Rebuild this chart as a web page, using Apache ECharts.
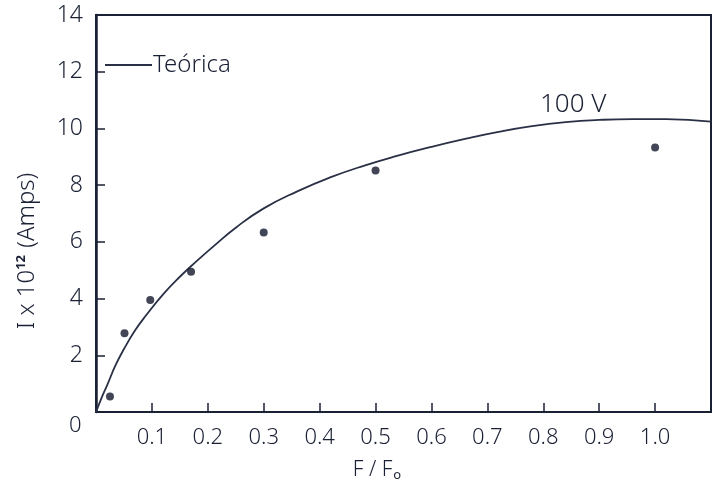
<!DOCTYPE html>
<html>
<head>
<meta charset="utf-8">
<title>I vs F/Fo</title>
<script src="https://cdn.jsdelivr.net/npm/echarts@6/dist/echarts.min.js"></script>
<style>
  html, body { margin: 0; padding: 0; background: #ffffff; }
  #chart { width: 714px; height: 480px; }
</style>
</head>
<body>
<div id="chart"></div>
<script>
// Theoretical curve (100 V), sampled along F/Fo
const curveX = [0, 0.01, 0.02, 0.035, 0.05, 0.07, 0.09, 0.12, 0.15, 0.18, 0.21, 0.25, 0.3,
                0.36, 0.42, 0.48, 0.54, 0.6, 0.66, 0.72, 0.78, 0.84, 0.9, 0.96, 1.02, 1.1];
const curveY = [0, 0.5, 0.95, 1.65, 2.22, 2.88, 3.42, 4.15, 4.77, 5.32, 5.84, 6.5, 7.18,
                7.78, 8.28, 8.69, 9.04, 9.35, 9.63, 9.88, 10.08, 10.22, 10.3, 10.33, 10.33, 10.24];

// Measured points
const measX = [0.025, 0.051, 0.097, 0.17, 0.30, 0.50, 1.0];
const measY = [0.55, 2.78, 3.95, 4.95, 6.33, 8.52, 9.33];

// Tick labels
const yTicks = [2, 4, 6, 8, 10, 12, 14];
const xTicks = [0.1, 0.2, 0.3, 0.4, 0.5, 0.6, 0.7, 0.8, 0.9, 1.0];

const INK = '#1b2135';
const FONT = "'Noto Sans', 'DejaVu Sans', sans-serif";

const chart = echarts.init(document.getElementById('chart'), null, { renderer: 'canvas' });

const isTick = (list, v) => list.some(t => Math.abs(t - v) < 1e-6);

chart.setOption({
  backgroundColor: '#ffffff',
  animation: false,
  grid: {
    left: 96, top: 15, bottom: 68, right: -6,
    show: true, borderColor: INK, borderWidth: 2, backgroundColor: 'transparent'
  },
  legend: {
    data: [{ name: 'Teórica', icon: 'rect' }],
    left: 100, top: 48,
    itemWidth: 47, itemHeight: 2, itemGap: 4,
    textStyle: { color: INK, fontFamily: FONT, fontSize: 24, fontWeight: 300, padding: [0, 0, 0, -4] }
  },
  xAxis: {
    type: 'value', min: 0, max: 1.1, interval: 0.1,
    splitLine: { show: false },
    axisLine: { show: true, onZero: false, lineStyle: { color: INK, width: 2 } },
    axisTick: { show: true, inside: true, length: 9, lineStyle: { color: INK, width: 1.5 } },
    axisLabel: {
      color: INK, fontFamily: FONT, fontSize: 22, fontWeight: 300, margin: 15,
      formatter: v => isTick(xTicks, v) ? v.toFixed(1) : ''
    }
  },
  yAxis: {
    type: 'value', min: 0, max: 14, interval: 2,
    splitLine: { show: false },
    axisLine: { show: true, onZero: false, lineStyle: { color: INK, width: 2.5 } },
    axisTick: { show: true, inside: true, length: 9, lineStyle: { color: INK, width: 1.5 } },
    axisLabel: {
      color: INK, fontFamily: FONT, fontSize: 23, fontWeight: 300, margin: 13,
      formatter: v => isTick(yTicks, v) ? String(v) : ''
    }
  },
  graphic: [
    // shared origin label
    { type: 'text', left: 69, top: 415,
      style: { text: '0', fill: INK, font: `300 22px ${FONT}` } },
    // curve annotation
    { type: 'text', left: 540, top: 92,
      style: { text: '100 V', fill: INK, font: `300 26px ${FONT}` } },
    // x-axis title
    { type: 'text', x: 377, y: 470,
      style: {
        text: 'F / F{sub|o}', fill: INK, font: `300 21px ${FONT}`,
        align: 'center', verticalAlign: 'middle',
        rich: { sub: { fontSize: 13, fontFamily: FONT, fill: INK, padding: [10, 0, 0, 1] } }
      } },
    // y-axis title
    { type: 'text', x: 27, y: 251, rotation: Math.PI / 2,
      style: {
        text: 'I x 10{sup|12} (Amps)', fill: INK, font: `300 24px ${FONT}`,
        align: 'center', verticalAlign: 'middle',
        rich: { sup: { fontSize: 13, fontWeight: 'bold', fontFamily: FONT, fill: INK, padding: [0, 1, 12, 0] } }
      } }
  ],
  series: [
    {
      name: 'Teórica',
      type: 'line',
      data: curveX.map((x, i) => [x, curveY[i]]),
      smooth: 0.5,
      symbol: 'none',
      lineStyle: { color: '#2a3045', width: 1.8 },
      itemStyle: { color: '#2a3045' },
      z: 2
    },
    {
      name: 'Medida',
      type: 'scatter',
      data: measX.map((x, i) => [x, measY[i]]),
      symbol: 'circle',
      symbolSize: 8,
      itemStyle: { color: '#12172a' },
      z: 3
    }
  ]
});
</script>
</body>
</html>
